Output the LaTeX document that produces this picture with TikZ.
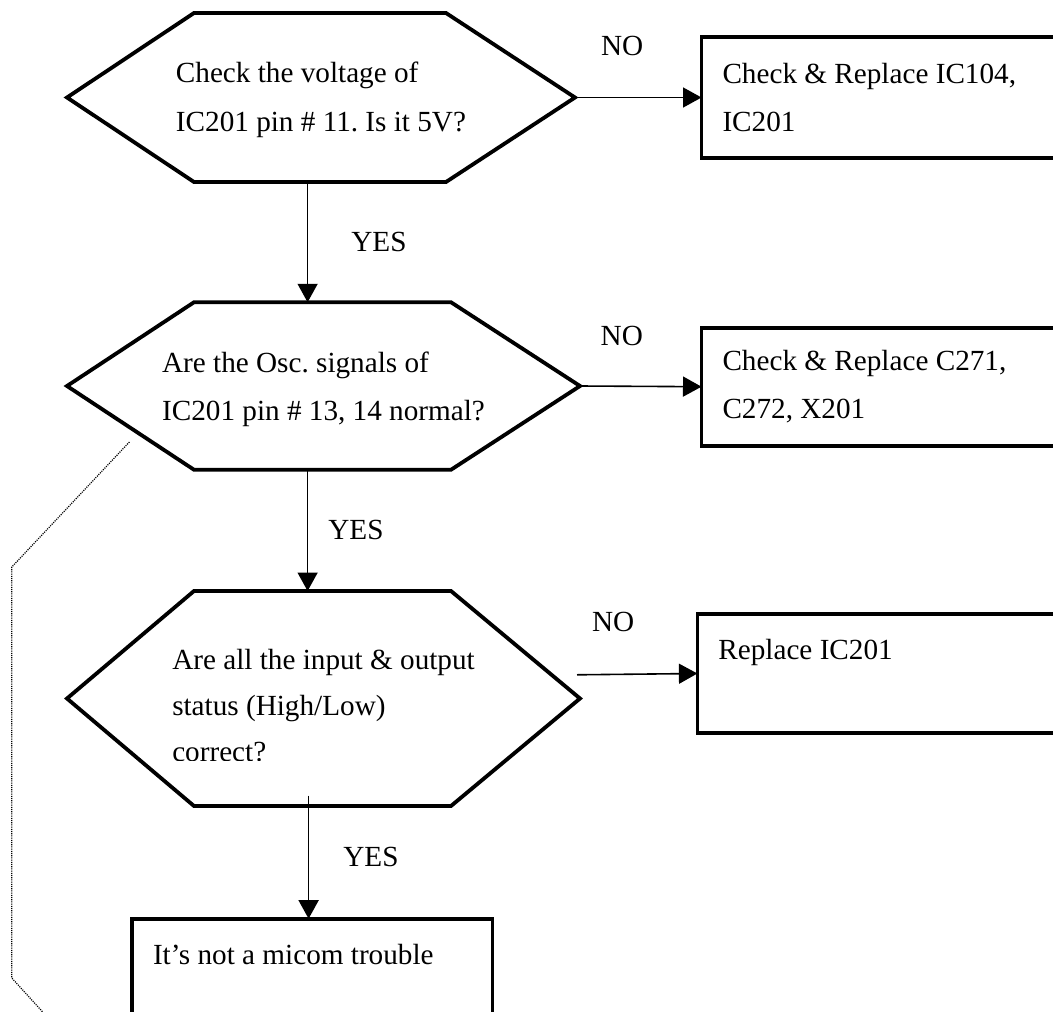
\documentclass[tikz,border=0pt]{standalone}
\usepackage{fontspec}
\setmainfont{Liberation Serif}
\usetikzlibrary{positioning,arrows.meta}
\frenchspacing

\begin{document}
\begin{tikzpicture}[
  x=1pt, y=-1pt,
  >={Triangle[length=18.5pt,width=20pt]},
  hexnode/.style={inner sep=0pt, outer sep=0pt, minimum width=513pt, align=left, font=\fontsize{29.2}{48.5}\selectfont},
  hexline/.style={line width=3.8pt},
  box/.style={draw, line width=3.8pt, anchor=north west, inner xsep=21pt, inner ysep=0pt, outer sep=0pt, text width=338pt, align=flush left, font=\fontsize{29.2}{48.5}\selectfont},
  conn/.style={->, line width=1.6pt},
  lab/.style={inner sep=0pt, font=\fontsize{29.2}{35}\selectfont},
  dotline/.style={line width=1.2pt, dash pattern=on 1.1pt off 1.1pt}
]
\clip (0,0) rectangle (1053,1012);

% decision hexagons
\node[hexnode, minimum width=508pt, minimum height=169pt] (q1) at (321,97.5) {\rule{0pt}{25pt}Check the voltage of\\IC201 pin \# 11. Is it 5V?};
\node[hexnode, minimum height=167.5pt] (q2) at (323.5,386) {\rule{0pt}{27pt}Are the Osc. signals of\\IC201 pin \# 13, 14 normal?};
\begin{scope}
  \clip (0,0) rectangle (1053,760);
  \node[hexnode, minimum height=215pt, font=\fontsize{29.2}{46}\selectfont] (q3) at (323.5,698.5) {\rule{0pt}{34pt}Are all the input \& output\\status (High/Low)\\correct?};
\end{scope}
\foreach \q in {q1,q2,q3}
  \draw[hexline] (\q.west) -- ([xshift=127pt]\q.north west) -- ([xshift=-129pt]\q.north east) -- (\q.east)
    -- ([xshift=-129pt]\q.south east) -- ([xshift=127pt]\q.south west) -- cycle;

% action boxes
\node[box, minimum height=121pt] (b1) at (701.5,37) {Check \& Replace IC104,\\IC201};
\node[box, minimum height=118pt] (b2) at (701.5,327.7) {Check \& Replace C271,\\C272, X201};
\node[box, minimum height=119pt, text height=45.7pt, text depth=73.3pt] (b3) at (697.4,614) {Replace IC201};
\node[box, text width=318.4pt, text height=46.1pt, text depth=70pt] (b4) at (132,918.7) {It’s not a micom trouble};

\coordinate (col) at (307.6,0);
\coordinate (n3) at (577,674.8);
\coordinate (s3) at (308.6,795.7);

% NO branches
\draw[conn] (q1.east) -- node[lab, above=40.5pt, xshift=-16pt] (no1) {NO} (b1.west);
\draw[conn] (q2.east) -- node[lab, above=39.5pt, xshift=-19pt] (no2) {NO} (b2.west);
\draw[conn] (n3) -- node[lab, above=42pt, xshift=-24pt] (no3) {NO} (b3.west);

% YES branches
\draw[conn] (q1.south -| col) -- node[lab, right=43pt] (yes1) {YES} (q2.north -| col);
\draw[conn] (q2.south -| col) -- node[lab, right=20pt] (yes2) {YES} (q3.north -| col);
\draw[conn] (s3) -- node[lab, right=34pt] (yes3) {YES} (s3 |- b4.north);

% dotted outline on the left
\draw[dotline] (129.4,442) -- (11.8,567) -- (11.8,978) -- (50,1020);
\end{tikzpicture}
\end{document}
